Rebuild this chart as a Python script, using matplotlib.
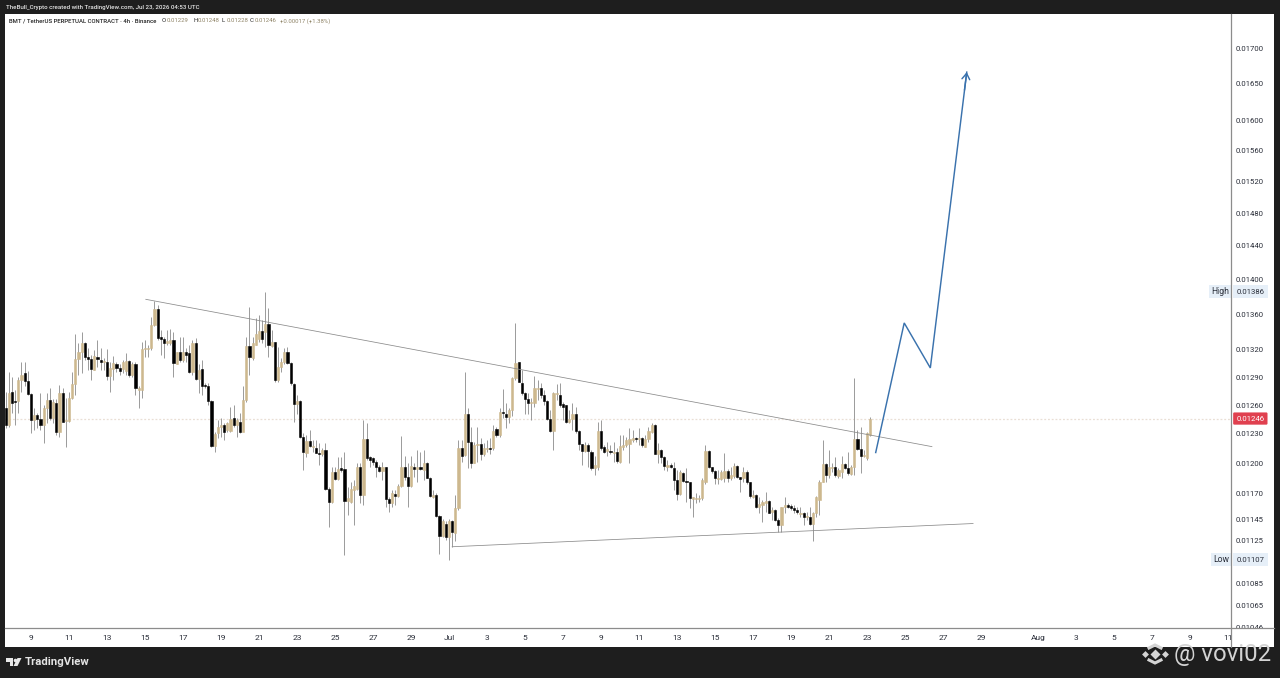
import numpy as np
import pandas as pd
import matplotlib
matplotlib.use('Agg')
import matplotlib.pyplot as plt
import matplotlib.dates as mdates
from matplotlib.lines import Line2D
from matplotlib.patches import Rectangle, Polygon

plt.rcParams['font.family'] = ['Roboto', 'DejaVu Sans']

# prices are in units of 0.00001
opens = [1257,1239,1274,1264,1264,1287,1294,1286,1272,1245,
         1250,1246,1239,1257,1266,1247,1262,1232,1273,1243,
         1243,1268,1283,1310,1317,1327,1312,1310,1298,1312,
         1309,1306,1307,1291,1299,1304,1300,1299,1297,1308,
         1292,1304,1276,1276,1321,1321,1322,1348,1366,1334,
         1332,1327,1327,1331,1304,1317,1309,1318,1316,1296,
         1327,1288,1299,1282,1280,1264,1218,1231,1237,1239,
         1234,1233,1247,1239,1242,1232,1265,1324,1311,1325,
         1332,1341,1340,1349,1324,1329,1287,1301,1307,1317,
         1305,1283,1261,1264,1227,1211,1223,1217,1216,1211,
         1209,1214,1175,1162,1191,1184,1195,1194,1163,1162,
         1174,1175,1196,1169,1225,1206,1205,1201,1196,1192,
         1196,1165,1161,1170,1168,1177,1196,1186,1177,1196,
         1194,1196,1193,1200,1185,1167,1169,1148,1129,1141,
         1128,1143,1132,1156,1216,1208,1251,1222,1200,1219,
         1220,1209,1215,1216,1216,1235,1229,1253,1251,1248,
         1255,1289,1306,1284,1273,1267,1262,1262,1277,1278,
         1271,1264,1246,1233,1272,1271,1261,1260,1242,1246,
         1251,1233,1220,1213,1219,1212,1195,1196,1233,1217,
         1213,1213,1211,1212,1201,1217,1219,1220,1224,1226,
         1225,1226,1217,1225,1232,1239,1210,1214,1206,1196,
         1198,1195,1183,1170,1190,1182,1181,1165,1165,1165,
         1166,1181,1213,1196,1192,1184,1184,1185,1192,1185,
         1187,1197,1186,1185,1191,1181,1167,1169,1157,1159,
         1161,1163,1152,1154,1144,1140,1157,1159,1158,1156,
         1154,1150,1151,1147,1147,1141,1151,1164,1181,1199,
         1188,1195,1196,1187,1191,1199,1195,1189,1196,1225,
         1215,1207,1205,1229]
closes = [1239,1273,1262,1263,1287,1292,1286,1272,1245,1250,
          1246,1239,1257,1266,1247,1263,1232,1273,1242,1244,
          1268,1283,1310,1317,1327,1312,1310,1299,1313,1310,
          1306,1308,1291,1300,1305,1300,1297,1306,1308,1292,
          1304,1278,1278,1321,1322,1322,1348,1366,1333,1332,
          1327,1330,1331,1305,1317,1309,1317,1314,1296,1327,
          1288,1298,1281,1280,1264,1218,1230,1237,1239,1232,
          1241,1246,1239,1244,1232,1265,1324,1312,1328,1337,
          1341,1332,1349,1325,1329,1287,1301,1307,1318,1305,
          1284,1261,1264,1227,1212,1223,1218,1218,1211,1209,
          1214,1175,1162,1191,1184,1194,1193,1163,1166,1175,
          1177,1196,1169,1225,1205,1203,1201,1196,1192,1196,
          1165,1161,1171,1168,1177,1196,1186,1177,1197,1194,
          1196,1194,1200,1185,1168,1169,1148,1129,1143,1128,
          1143,1133,1156,1216,1207,1251,1222,1200,1219,1220,
          1209,1216,1216,1215,1233,1229,1253,1252,1248,1255,
          1289,1305,1285,1273,1267,1262,1263,1278,1278,1271,
          1264,1246,1233,1273,1273,1260,1258,1242,1246,1251,
          1233,1220,1213,1219,1213,1195,1198,1233,1216,1212,
          1215,1212,1212,1202,1218,1219,1224,1225,1226,1225,
          1226,1219,1225,1233,1239,1210,1214,1206,1197,1198,
          1196,1183,1170,1191,1182,1181,1166,1167,1166,1166,
          1183,1213,1196,1192,1185,1185,1191,1192,1185,1188,
          1197,1186,1184,1191,1181,1168,1169,1157,1160,1162,
          1163,1151,1154,1144,1140,1157,1159,1157,1156,1154,
          1152,1151,1147,1148,1141,1151,1167,1181,1199,1188,
          1196,1196,1188,1193,1199,1195,1190,1196,1225,1215,
          1207,1208,1231,1246]
highs = [1274,1296,1290,1276,1290,1306,1306,1297,1273,1257,
         1252,1273,1260,1273,1278,1267,1267,1282,1278,1268,
         1274,1296,1338,1328,1340,1329,1322,1314,1320,1331,
         1322,1311,1321,1306,1313,1306,1304,1309,1316,1309,
         1306,1306,1280,1329,1331,1325,1357,1375,1370,1342,
         1334,1342,1343,1340,1318,1334,1334,1322,1325,1331,
         1333,1304,1309,1284,1284,1265,1232,1244,1247,1241,
         1242,1258,1260,1247,1252,1280,1334,1368,1334,1356,
         1359,1353,1386,1367,1342,1329,1323,1311,1322,1323,
         1306,1284,1271,1265,1231,1229,1234,1224,1224,1221,
         1216,1221,1176,1196,1196,1206,1206,1212,1176,1181,
         1183,1200,1200,1244,1241,1207,1206,1203,1198,1201,
         1196,1167,1174,1174,1179,1228,1207,1200,1207,1200,
         1214,1212,1214,1201,1186,1174,1171,1149,1145,1143,
         1145,1144,1169,1224,1224,1296,1257,1237,1222,1237,
         1226,1221,1224,1226,1239,1237,1257,1277,1262,1257,
         1290,1350,1306,1298,1274,1273,1268,1291,1287,1284,
         1276,1265,1255,1274,1283,1284,1263,1260,1255,1262,
         1258,1234,1220,1222,1221,1214,1207,1242,1244,1219,
         1222,1219,1222,1216,1229,1229,1227,1236,1234,1227,
         1236,1227,1229,1237,1241,1240,1221,1215,1207,1203,
         1200,1201,1193,1193,1191,1195,1181,1167,1171,1169,
         1185,1219,1214,1196,1193,1193,1193,1211,1194,1196,
         1200,1198,1186,1196,1193,1181,1174,1170,1167,1164,
         1172,1164,1157,1155,1146,1157,1167,1161,1160,1159,
         1157,1157,1152,1152,1157,1152,1168,1183,1224,1200,
         1214,1200,1206,1195,1207,1200,1212,1198,1289,1234,
         1237,1214,1232,1248]
lows = [1236,1237,1252,1239,1252,1274,1280,1271,1231,1234,
        1236,1234,1221,1241,1244,1241,1229,1227,1242,1217,
        1242,1267,1271,1292,1295,1309,1298,1287,1298,1301,
        1298,1298,1287,1274,1287,1296,1292,1295,1292,1290,
        1290,1271,1257,1268,1312,1312,1320,1346,1331,1314,
        1311,1325,1325,1290,1304,1307,1307,1307,1295,1292,
        1287,1273,1271,1278,1260,1217,1212,1226,1227,1224,
        1232,1232,1237,1227,1231,1233,1263,1292,1309,1325,
        1329,1328,1323,1312,1323,1285,1285,1296,1304,1304,
        1282,1242,1251,1226,1193,1206,1217,1212,1211,1198,
        1207,1174,1138,1161,1183,1183,1191,1111,1149,1161,
        1140,1174,1161,1159,1203,1196,1198,1186,1191,1183,
        1157,1152,1157,1159,1167,1176,1183,1157,1176,1186,
        1181,1193,1183,1185,1167,1166,1147,1112,1128,1125,
        1107,1119,1124,1154,1201,1207,1195,1195,1200,1201,
        1203,1207,1212,1209,1214,1227,1227,1247,1236,1241,
        1249,1287,1285,1271,1251,1251,1244,1258,1265,1268,
        1260,1244,1232,1214,1265,1258,1244,1241,1241,1234,
        1231,1214,1198,1212,1196,1193,1188,1193,1214,1211,
        1207,1209,1201,1200,1200,1214,1217,1200,1222,1222,
        1219,1217,1217,1222,1231,1209,1200,1200,1193,1192,
        1195,1174,1164,1169,1181,1162,1156,1147,1161,1162,
        1164,1179,1195,1190,1179,1179,1183,1181,1181,1183,
        1185,1185,1172,1181,1179,1166,1166,1156,1151,1142,
        1152,1151,1144,1143,1133,1133,1151,1156,1154,1151,
        1150,1147,1140,1144,1140,1124,1147,1149,1181,1181,
        1185,1191,1186,1185,1185,1194,1188,1188,1188,1214,
        1190,1206,1203,1228]

price_ticks = [0.017, 0.0165, 0.016, 0.0156, 0.0152, 0.0148, 0.0144, 0.014, 0.0136, 0.0132,
               0.0129, 0.0126, 0.0123, 0.012, 0.0117, 0.01145, 0.01125, 0.01085, 0.01065, 0.01046]
high_price = 0.01386
low_price = 0.01107
last_price = 0.01246

date_ticks = ['2026-06-09', '2026-06-11', '2026-06-13', '2026-06-15', '2026-06-17', '2026-06-19',
              '2026-06-21', '2026-06-23', '2026-06-25', '2026-06-27', '2026-06-29', '2026-07-01',
              '2026-07-03', '2026-07-05', '2026-07-07', '2026-07-09', '2026-07-11', '2026-07-13',
              '2026-07-15', '2026-07-17', '2026-07-19', '2026-07-21', '2026-07-23', '2026-07-25',
              '2026-07-27', '2026-07-29', '2026-08-01', '2026-08-03', '2026-08-05', '2026-08-07',
              '2026-08-09', '2026-08-11']
date_labels = ['9', '11', '13', '15', '17', '19', '21', '23', '25', '27', '29', 'Jul',
               '3', '5', '7', '9', '11', '13', '15', '17', '19', '21', '23', '25',
               '27', '29', 'Aug', '3', '5', '7', '9', '11']

# drawn lines: times and prices
upper_times = ['2026-06-15 01:00', '2026-07-26 10:00']
upper_prices = [1377, 1217]
lower_times = ['2026-07-01 04:00', '2026-07-28 14:00']
lower_prices = [1119, 1141]
path_times = ['2026-07-23 11:00', '2026-07-24 23:00', '2026-07-26 08:00', '2026-07-28 06:00']
path_prices = [1211, 1350, 1300, 1666]

W, H = 1280, 678
BG = '#1e1e1e'
TAN = '#cdb88e'
TEXT = '#2a2e39'
BLUE = '#3a72ad'


def box(x0, y0, x1, y1):
    # pixel box of the picture to figure fractions
    return [x0 / W, 1 - y1 / H, (x1 - x0) / W, (y1 - y0) / H]


def fx(x):
    return x / W


def fy(y):
    return 1 - y / H


times = pd.date_range('2026-06-07 16:00', periods=len(opens), freq='4h')
t = mdates.date2num(times)
o = np.array(opens) / 1e5
c = np.array(closes) / 1e5
hi = np.array(highs) / 1e5
lo = np.array(lows) / 1e5

fig = plt.figure(figsize=(W / 100, H / 100), dpi=100, facecolor=BG)
fig.add_artist(Rectangle(box(5, 14, 1274, 647)[:2], box(5, 14, 1274, 647)[2], box(5, 14, 1274, 647)[3],
                         transform=fig.transFigure, facecolor='white', edgecolor='none', zorder=0))

ax = fig.add_axes(box(5, 14, 1231, 628), zorder=1, facecolor='none')
ax.set_yscale('log')
day0 = mdates.date2num(pd.Timestamp('2026-06-09'))
ax.set_xlim(day0 - 26 / 19, day0 + 1200 / 19)
ax.set_ylim(0.010453, 0.017492)

colors = [TAN if c[i] >= o[i] else '#000000' for i in range(len(o))]
ax.vlines(t, lo, hi, color='#9a9a9a', lw=0.7, zorder=2)
ax.bar(t, np.abs(c - o), bottom=np.minimum(o, c), width=0.122, color=colors,
       edgecolor=colors, linewidth=0.4, zorder=3)

ax.axhline(last_price, color='#e9dfd5', lw=0.9, ls=(0, (1.5, 1.5)), zorder=1)

ax.plot(mdates.date2num(pd.to_datetime(upper_times)), np.array(upper_prices) / 1e5, color='#8a8a8a', lw=0.55, zorder=4)
ax.plot(mdates.date2num(pd.to_datetime(lower_times)), np.array(lower_prices) / 1e5, color='#8a8a8a', lw=0.55, zorder=4)
path_x = mdates.date2num(pd.to_datetime(path_times))
path_y = np.array(path_prices) / 1e5
ax.plot(path_x, path_y, color=BLUE, lw=1.05, zorder=5, solid_joinstyle='miter')
# arrow head only, on the last stretch of the path
ax.annotate('', xy=(path_x[-1], path_y[-1]),
            xytext=(path_x[-1] - 0.12, path_y[-1] * 0.985),
            arrowprops=dict(arrowstyle='->,head_length=0.42,head_width=0.28', color=BLUE, lw=1.05, shrinkA=0, shrinkB=0),
            zorder=5)

for side in ['top', 'left', 'right', 'bottom']:
    ax.spines[side].set_visible(False)
ax.set_xticks([])
ax.yaxis.tick_right()
ax.set_yticks(price_ticks)
ax.set_yticklabels(['%.5f' % p for p in price_ticks], fontsize=5.6, color=TEXT)
ax.minorticks_off()
ax.tick_params(axis='y', length=0, pad=3.6)

# right side labels
trans = ax.get_yaxis_transform()
for price, word in [(high_price, 'High'), (low_price, 'Low')]:
    ax.text(1.0043, price, '%.5f' % price, transform=trans, fontsize=5.6, color=TEXT, va='center', ha='left',
            clip_on=False, bbox=dict(boxstyle='square,pad=0.45', facecolor='#e6eff8', edgecolor='none'))
    ax.text(0.9983, price, word, transform=trans, fontsize=6.2, color=TEXT, va='center', ha='right',
            clip_on=False, bbox=dict(boxstyle='square,pad=0.25', facecolor='#e6eff8', edgecolor='none'))
ax.text(1.0043, last_price, '%.5f' % last_price, transform=trans, fontsize=5.6, color='white', va='center', ha='left',
        clip_on=False, bbox=dict(boxstyle='round,pad=0.4,rounding_size=0.15', facecolor='#e0404f', edgecolor='none'))

# strip under the chart hides the cut price label
fig.add_artist(Rectangle(box(5, 628, 1274, 647)[:2], box(5, 628, 1274, 647)[2], box(5, 628, 1274, 647)[3],
                         transform=fig.transFigure, facecolor='white', edgecolor='none', zorder=2))
time_ax = fig.add_axes(box(5, 628, 1231, 647), zorder=3, facecolor='none')
time_ax.set_xlim(ax.get_xlim())
time_ax.set_ylim(0, 1)
time_ax.set_yticks([])
for side in ['top', 'left', 'right', 'bottom']:
    time_ax.spines[side].set_visible(False)
time_ax.set_xticks(mdates.date2num(pd.to_datetime(date_ticks)))
time_ax.set_xticklabels(date_labels, fontsize=6, color=TEXT)
for lab in time_ax.get_xticklabels():
    if lab.get_text() in ('Jul', 'Aug'):
        lab.set_fontweight('bold')
time_ax.xaxis.tick_top()
time_ax.tick_params(axis='x', length=0, pad=-9.5, labeltop=True, labelbottom=False)

fig.add_artist(Line2D([fx(1231), fx(1231)], [fy(14), fy(647)], color='#8c8c8c', lw=0.9, zorder=4))
fig.add_artist(Line2D([fx(5), fx(1274)], [fy(628), fy(628)], color='#8c8c8c', lw=0.9, zorder=4))

# header text
fig.text(fx(6), fy(7), 'TheBull_Crypto created with TradingView.com, Jul 23, 2026 04:53 UTC',
         fontsize=4.45, color='#e8e8e8', va='center', fontweight='medium', zorder=5)
fig.text(fx(9), fy(21), 'BMT / TetherUS PERPETUAL CONTRACT \u00b7 4h \u00b7 Binance', fontsize=4.3, color='#222222',
         va='center', fontweight='medium', zorder=5)
for x, letter, value in [(162, 'O', '0.01229'), (193, 'H', '0.01248'), (222, 'L', '0.01228'), (250, 'C', '0.01246')]:
    fig.text(fx(x), fy(21), letter, fontsize=4.3, color='#222222', va='center', zorder=5)
    fig.text(fx(x + 4.5), fy(21), value, fontsize=4.3, color='#8f8467', va='center', zorder=5)
fig.text(fx(280), fy(21), '+0.00017 (+1.38%)', fontsize=4.3, color='#8f8467', va='center', zorder=5)

# TradingView logo in the footer
fig.add_artist(Polygon([(fx(6), fy(658)), (fx(13), fy(658)), (fx(13), fy(666)), (fx(9.5), fy(666)),
                        (fx(9.5), fy(661.5)), (fx(6), fy(661.5))],
                       closed=True, transform=fig.transFigure, facecolor='#e8e8e8', edgecolor='none', zorder=5))
fig.add_artist(Polygon([(fx(17.5), fy(658)), (fx(21.5), fy(658)), (fx(17.5), fy(666)), (fx(13.5), fy(666))],
                       closed=True, transform=fig.transFigure, facecolor='#e8e8e8', edgecolor='none', zorder=5))
fig.add_artist(Line2D([fx(15.3)], [fy(659.7)], marker='o', ms=2.6, color='#e8e8e8', mec='none', zorder=5))
fig.text(fx(25), fy(662), 'TradingView', fontsize=8.2, color='#e4e4e4', va='center', fontweight='bold', zorder=5)

# watermark
wm = '#d4d4d4'
for x, y, ms in [(1155, 654, 5), (1145, 654, 3.5), (1165, 654, 3.5)]:
    fig.add_artist(Line2D([fx(x)], [fy(y)], marker='D', ms=ms, color=wm, mec='none', zorder=6))
for ys in [(648, 645), (660, 663)]:
    fig.add_artist(Line2D([fx(1149), fx(1155), fx(1161)], [fy(ys[0]), fy(ys[1]), fy(ys[0])],
                          color=wm, lw=2.2, zorder=6, solid_joinstyle='miter'))
fig.text(fx(1174), fy(654), '@ vovi02', fontsize=17.2, color=wm, va='center', zorder=6)

fig.savefig('out.png', dpi=100, facecolor=BG)
